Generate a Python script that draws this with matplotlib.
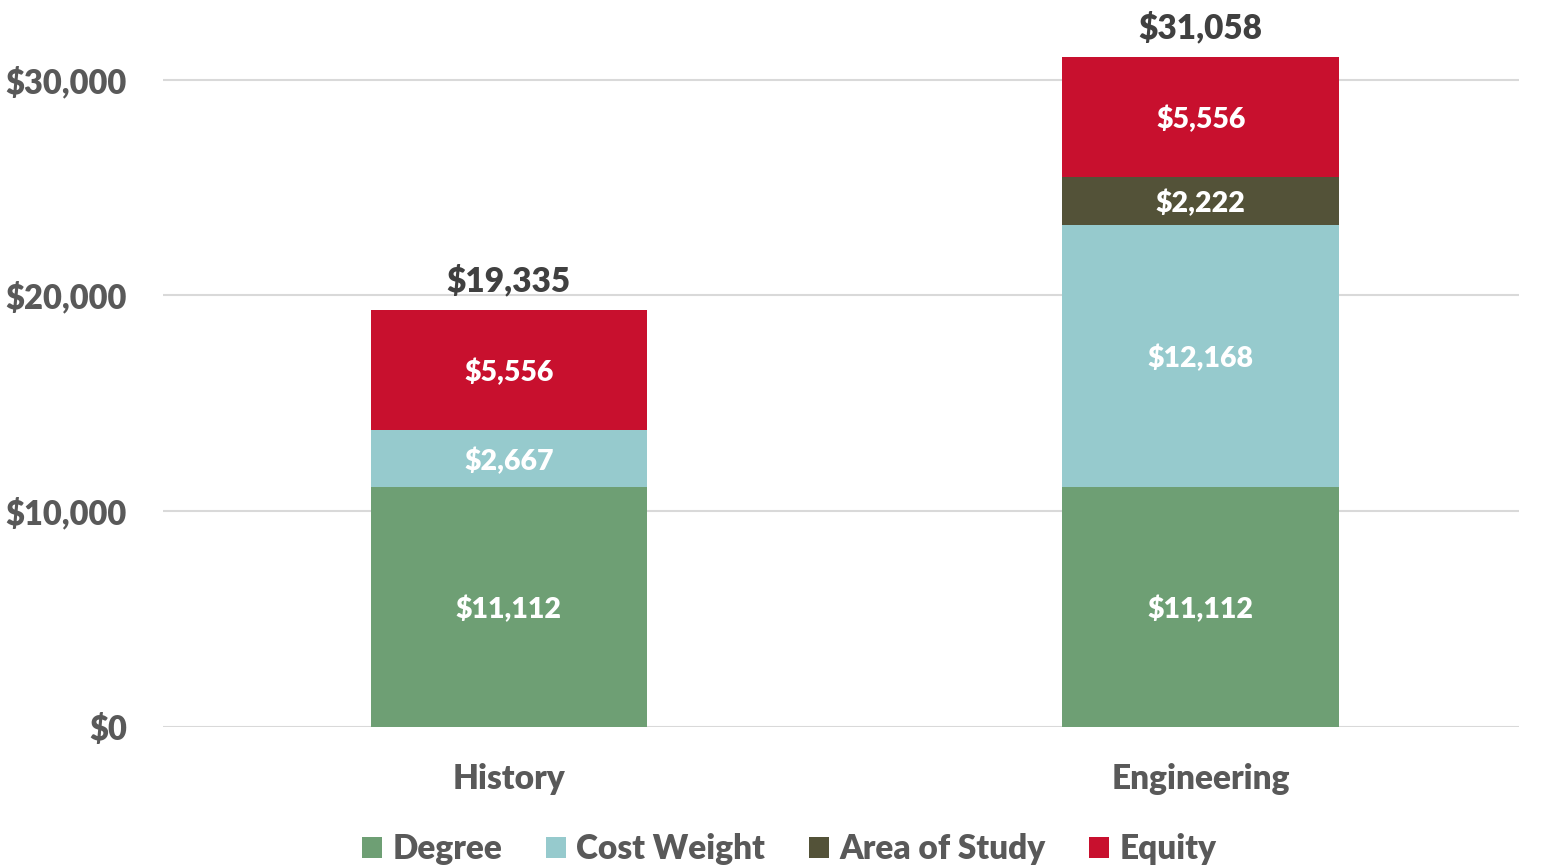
import matplotlib.pyplot as plt
import numpy as np

plt.rcParams['font.family'] = ['Lato', 'DejaVu Sans']

categories = ["History", "Engineering"]
series_names = ["Degree", "Cost Weight", "Area of Study", "Equity"]
degree = [11112, 11112]
cost_weight = [2667, 12168]
area_of_study = [0, 2222]
equity = [5556, 5556]
colors = ["#6E9F74", "#96CACD", "#535238", "#C8102E"]

series = [degree, cost_weight, area_of_study, equity]

fig = plt.figure(figsize=(15.49, 8.65), dpi=100)
ax = fig.add_axes([0.1052, 0.1595, 0.8754, 0.8232])

x = np.arange(len(categories))
bottom = np.zeros(len(categories))
for name, vals, col in zip(series_names, series, colors):
    vals = np.array(vals, dtype=float)
    ax.bar(x, vals, 0.40, bottom=bottom, color=col, label=name, zorder=2)
    for xi, v, b in zip(x, vals, bottom):
        if v > 0:
            ax.text(xi, b + v / 2, f"${v:,.0f}", ha="center", va="center_baseline",
                    color="white", fontsize=20.5, fontweight="heavy", zorder=3)
    bottom += vals

for xi, t in zip(x, bottom):
    ax.text(xi, t + 600, f"${t:,.0f}", ha="center", va="bottom",
            color="#404040", fontsize=24, fontweight="heavy")

ax.set_xlim(-0.5, 1.46)
ax.set_ylim(0, 33000)
ax.set_yticks([0, 10000, 20000, 30000])
ax.set_yticklabels([f"${v:,.0f}" for v in [0, 10000, 20000, 30000]])
ax.set_xticks(x)
ax.set_xticklabels(categories)
ax.grid(axis="y", color="#D9D9D9", linewidth=1.5, zorder=0)
for s in ax.spines.values():
    s.set_visible(False)
ax.tick_params(length=0, colors="#595959")
ax.tick_params(axis="x", labelsize=24, pad=26)
ax.tick_params(axis="y", labelsize=23.5, pad=26)
for lab in ax.get_xticklabels() + ax.get_yticklabels():
    lab.set_fontweight("heavy")

leg = fig.legend(loc="lower center", bbox_to_anchor=(0.5095, -0.035), ncol=4,
                 frameon=False, fontsize=24, handlelength=0.6, handleheight=0.6,
                 handletextpad=0.3, columnspacing=1.32)
for t in leg.get_texts():
    t.set_color("#595959")
    t.set_fontweight("heavy")

fig.savefig("out.png", dpi=100)
